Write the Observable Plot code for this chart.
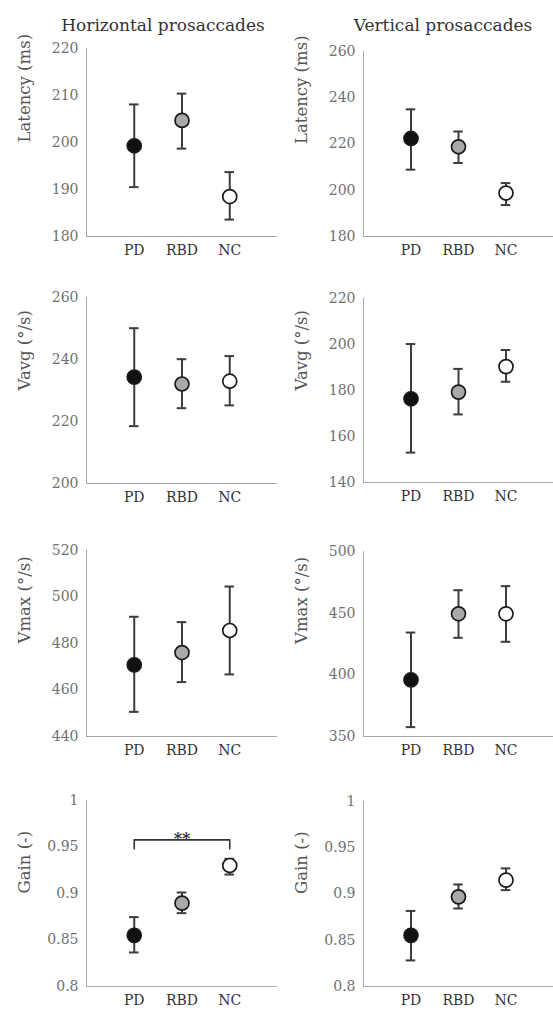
<!DOCTYPE html>
<html><head><meta charset="utf-8">
<script src="https://cdn.jsdelivr.net/npm/d3@7"></script>
<script src="https://cdn.jsdelivr.net/npm/@observablehq/plot@0.6"></script>
<style>
body{margin:0;background:#fff;}
#fig{position:relative;width:553px;height:1012px;font-family:"DejaVu Serif",serif;overflow:hidden;}
.title{position:absolute;top:14px;font-size:17px;line-height:22px;color:#333;text-align:center;width:276px;white-space:nowrap;}
.panel{position:absolute;}
</style></head><body><div id="fig">
<div class="title" style="left:25px;">Horizontal prosaccades</div>
<div class="title" style="left:305px;">Vertical prosaccades</div>
</div>
<script>
const groups = ["PD", "RBD", "NC"];
const groupFills = ["#111111", "#a9a9a9", "#ffffff"];

// Horizontal prosaccades
const hLatencyMean = [199.3, 204.7, 188.5];
const hLatencyLow  = [190.5, 198.7, 183.6];
const hLatencyHigh = [208.1, 210.4, 193.7];
const hLatencyTicks = [180, 190, 200, 210, 220];

const hVavgMean = [234.3, 232.1, 233.0];
const hVavgLow  = [218.5, 224.3, 225.2];
const hVavgHigh = [250.1, 240.1, 241.1];
const hVavgTicks = [200, 220, 240, 260];

const hVmaxMean = [470.8, 476.1, 485.6];
const hVmaxLow  = [450.6, 463.4, 466.7];
const hVmaxHigh = [491.5, 489.2, 504.5];
const hVmaxTicks = [440, 460, 480, 500, 520];

const hGainMean = [0.855, 0.8896, 0.9301];
const hGainLow  = [0.8366, 0.8789, 0.9204];
const hGainHigh = [0.8746, 0.9011, 0.9373];
const gainTicks = [0.8, 0.85, 0.9, 0.95, 1];

// Vertical prosaccades
const vLatencyMean = [222.4, 218.8, 198.8];
const vLatencyLow  = [208.9, 211.8, 193.6];
const vLatencyHigh = [235.0, 225.4, 203.1];
const vLatencyTicks = [180, 200, 220, 240, 260];

const vVavgMean = [176.4, 179.3, 190.4];
const vVavgLow  = [153.0, 169.6, 183.8];
const vVavgHigh = [200.2, 189.4, 197.6];
const vVavgTicks = [140, 160, 180, 200, 220];

const vVmaxMean = [395.9, 449.5, 449.5];
const vVmaxLow  = [357.6, 430.0, 426.8];
const vVmaxHigh = [434.3, 468.6, 471.9];
const vVmaxTicks = [350, 400, 450, 500];

const vGainMean = [0.8553, 0.8969, 0.915];
const vGainLow  = [0.8282, 0.8843, 0.9042];
const vGainHigh = [0.8817, 0.9103, 0.9277];

// significance bracket (horizontal gain): PD vs NC
const sigPair = ["PD", "NC"];
const sigLabel = "**";
const sigTop = 0.9577;
const sigFoot = 0.948;

const panels = [
  {col: 0, top: 48,  bottom: 236, label: "Latency (ms)", mean: hLatencyMean, low: hLatencyLow, high: hLatencyHigh, ticks: hLatencyTicks},
  {col: 1, top: 51,  bottom: 236, label: "Latency (ms)", mean: vLatencyMean, low: vLatencyLow, high: vLatencyHigh, ticks: vLatencyTicks},
  {col: 0, top: 297, bottom: 483, label: "Vavg (°/s)", mean: hVavgMean, low: hVavgLow, high: hVavgHigh, ticks: hVavgTicks},
  {col: 1, top: 298, bottom: 482, label: "Vavg (°/s)", mean: vVavgMean, low: vVavgLow, high: vVavgHigh, ticks: vVavgTicks},
  {col: 0, top: 550, bottom: 736, label: "Vmax (°/s)", mean: hVmaxMean, low: hVmaxLow, high: hVmaxHigh, ticks: hVmaxTicks},
  {col: 1, top: 551, bottom: 736, label: "Vmax (°/s)", mean: vVmaxMean, low: vVmaxLow, high: vVmaxHigh, ticks: vVmaxTicks},
  {col: 0, top: 800, bottom: 986, label: "Gain (-)", mean: hGainMean, low: hGainLow, high: hGainHigh, ticks: gainTicks, sig: true},
  {col: 1, top: 801, bottom: 986, label: "Gain (-)", mean: vGainMean, low: vGainLow, high: vGainHigh, ticks: gainTicks}
];

const fig = document.getElementById("fig");
const mTop = 38, mBottom = 30;
const capHalf = 0.1;
const barColor = "#3c3c3c";
const axisColor = "#a8a8a8";

for (const p of panels) {
  const data = groups.map((g, k) => ({i: k + 1, g, mean: p.mean[k], low: p.low[k], high: p.high[k], fill: groupFills[k]}));
  const domain = [p.ticks[0], p.ticks[p.ticks.length - 1]];
  const width = p.col === 0 ? 277 : 276;
  const height = p.bottom - p.top + mTop + mBottom;
  const marks = [
    Plot.ruleX([0], {stroke: axisColor, strokeWidth: 1}),
    Plot.ruleY([domain[0]], {stroke: axisColor, strokeWidth: 1}),
    Plot.axisY({ticks: p.ticks, tickFormat: d => String(+d.toFixed(2)), tickSize: 0, tickPadding: 8, fontSize: 14, fill: "#707070", label: null}),
    Plot.axisX({ticks: [1, 2, 3], tickFormat: i => groups[i - 1], tickSize: 0, tickPadding: 9, fontSize: 14, fill: "#333", label: null}),
    Plot.text([p.label], {text: d => d, frameAnchor: "left", dx: -62, rotate: -90, fontSize: 16.5, fill: "#555"}),
    Plot.ruleX(data, {x: "i", y1: "low", y2: "high", stroke: barColor, strokeWidth: 2}),
    Plot.ruleY(data, {y: "high", x1: d => d.i - capHalf, x2: d => d.i + capHalf, stroke: barColor, strokeWidth: 2}),
    Plot.ruleY(data, {y: "low", x1: d => d.i - capHalf, x2: d => d.i + capHalf, stroke: barColor, strokeWidth: 2}),
    Plot.dot(data, {x: "i", y: "mean", r: 7, fill: "fill", stroke: "#1a1a1a", strokeWidth: 1.7})
  ];
  if (p.sig) {
    const a = groups.indexOf(sigPair[0]) + 1, b = groups.indexOf(sigPair[1]) + 1;
    const bracket = [{x: a, y: sigFoot}, {x: a, y: sigTop}, {x: b, y: sigTop}, {x: b, y: sigFoot}];
    marks.push(Plot.line(bracket, {x: "x", y: "y", stroke: "#333", strokeWidth: 1.6}));
    marks.push(Plot.text([sigLabel], {text: d => d, x: (a + b) / 2, y: sigTop, lineAnchor: "bottom", dy: 4, fontSize: 16, fontWeight: "bold", fill: "#333"}));
  }
  const svg = Plot.plot({
    width, height,
    marginLeft: 86, marginRight: 0, marginTop: mTop, marginBottom: mBottom,
    x: {domain: [0, 4]},
    y: {domain},
    color: {type: "identity"},
    style: {background: "transparent", overflow: "visible", fontFamily: "DejaVu Serif, serif"},
    marks
  });
  const wrap = document.createElement("div");
  wrap.className = "panel";
  wrap.style.left = (p.col === 0 ? 0 : 277) + "px";
  wrap.style.top = (p.top - mTop) + "px";
  wrap.appendChild(svg);
  fig.appendChild(wrap);
}
</script>
</body></html>
